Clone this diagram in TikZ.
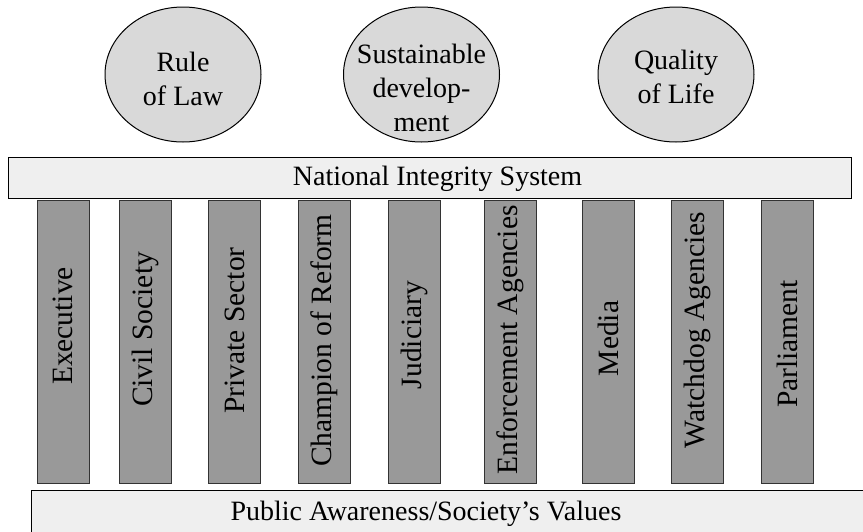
\documentclass[tikz,border=0pt]{standalone}
\usepackage{fontspec}
\setmainfont{Liberation Serif}
\usetikzlibrary{shapes.geometric}
\definecolor{goalgray}{HTML}{D9D9D9}
\definecolor{bargray}{HTML}{EFEFEF}
\definecolor{pillargray}{HTML}{999999}
\tikzset{
  goal/.style={ellipse, draw, line width=1pt, fill=goalgray, minimum width=156pt, minimum height=135pt, inner sep=0pt},
  goaltext/.style={align=center, font=\fontsize{28}{34}\selectfont, inner sep=0pt},
  bar/.style={draw, line width=1pt, fill=bargray, inner sep=0pt},
  bartext/.style={anchor=base, font=\fontsize{28}{34}\selectfont, inner sep=0pt},
  pillar/.style={draw=black!80, line width=1pt, fill=pillargray, minimum width=52pt, minimum height=283pt, inner sep=0pt},
  pillartext/.style={rotate=90, font=\fontsize{29.5}{34}\selectfont, inner sep=0pt},
}
\begin{document}
\begin{tikzpicture}[x=1pt,y=-1pt]
      \useasboundingbox (0,0) rectangle (863,531);
      % goals on the roof
      \node[goal] (rol) at (183,74.5) {};
      \node[goal] (sd) at (421.5,74.5) {};
      \node[goal] (qol) at (676,74.5) {};
      \node[goaltext] (rol-t) at (183,79) {Rule\\of Law};
      \node[goaltext] (sd-t) at (421.5,88) {Sustainable\\develop-\\ment};
      \node[goaltext] (qol-t) at (676,77) {Quality\\of Life};
      % roof and foundation
      \node[bar, minimum width=843pt, minimum height=41pt] (nis) at (429.5,177.5) {};
      \node[bartext] (nis-t) at (437.5,185) {National Integrity System};
      \node[bar, minimum width=849pt, minimum height=60pt] (pav) at (455.5,520) {};
      \node[bartext] (pav-t) at (426,520) {Public Awareness/Society’s Values};
      % pillars
      \foreach \x/\ty/\name/\lbl in {63/326/exe/Executive, 145.5/329.5/civ/Civil Society,
          234.5/330.5/pri/Private Sector, 324/340.5/cha/Champion of Reform,
          414/335/jud/Judiciary, 510.5/340/enf/Enforcement Agencies,
          608/338.5/med/Media, 697.5/330/wat/Watchdog Agencies, 787.5/344/par/Parliament}
      {
        \node[pillar] (\name) at (\x,341.5) {};
        \node[pillartext] (\name-t) at (\x,\ty) {\lbl};
      }
\end{tikzpicture}
\end{document}
